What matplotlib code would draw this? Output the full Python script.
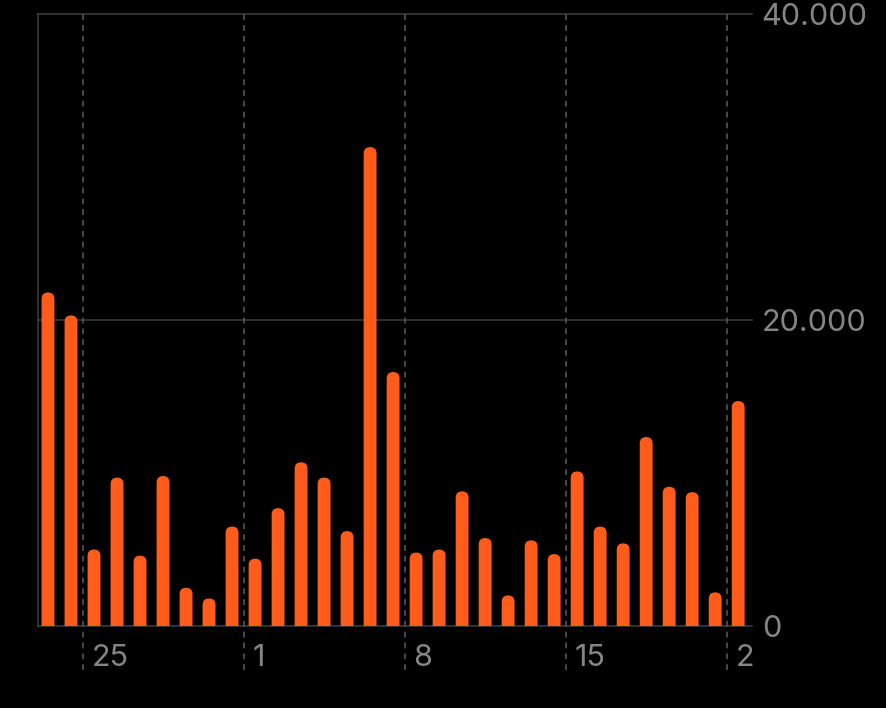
import matplotlib
matplotlib.use("Agg")
import matplotlib.pyplot as plt
from matplotlib.patches import FancyBboxPatch
import matplotlib.transforms as mtransforms

# daily values, 23rd of one month to the 22nd of the next
days = list(range(23, 32)) + list(range(1, 23))
values = [21800, 20300, 5000, 9700, 4600, 9800, 2500, 1800, 6500, 4400,
          7700, 10700, 9700, 6200, 31300, 16600, 4800, 5000, 8800, 5750,
          2000, 5600, 4700, 10100, 6500, 5400, 12350, 9100, 8750, 2200, 14700]

week_starts = [25, 1, 8, 15, 22]
week_labels = ["25", "1", "8", "15", "2"]
y_ticks = [0, 20000, 40000]
y_labels = ["0", "20.000", "40.000"]

orange = "#ff5c1c"
grey_txt = "#858585"
grid_col = "#3a3a3a"
dash_col = "#555555"

plt.rcParams['font.family'] = ['Inter', 'DejaVu Sans']

fig = plt.figure(figsize=(8.86, 7.08), dpi=100, facecolor="black")
ax = fig.add_axes([38 / 886, 82 / 708, 714 / 886, 612 / 708])
ax.set_facecolor("black")

x = list(range(len(values)))
bars = ax.bar(x, values, width=0.56, color=orange)

# swap plain rectangles for ones with rounded tops
r = 0.28
for b in bars:
    bx, bw, bh = b.get_x(), b.get_width(), b.get_height()
    b.remove()
    p = FancyBboxPatch((bx + r, -2000), bw - 2 * r, bh + 2000 - r * 1500,
                       boxstyle="round,pad=%f" % r, mutation_aspect=1500,
                       fc=orange, ec="none", zorder=3)
    ax.add_patch(p)

ax.set_xlim(-0.435, 30.6)
ax.set_ylim(0, 40000)

for yv in y_ticks:
    ax.axhline(yv, color=grid_col, lw=1.2, zorder=1, clip_on=False)

for d in week_starts:
    xi = days.index(d) - 0.5
    ax.axvline(xi, ymin=-0.072, ymax=1, color=dash_col, lw=1.2,
               ls=(0, (3.5, 3)), zorder=2, clip_on=False)

trans = mtransforms.blended_transform_factory(ax.transData, ax.transAxes)
for d, lab in zip(week_starts, week_labels):
    xi = days.index(d) - 0.5
    ax.text(xi + 0.38, -0.053, lab, transform=trans, ha="left", va="center",
            color=grey_txt, fontsize=22)

for s in ["top", "right", "bottom"]:
    ax.spines[s].set_visible(False)
ax.spines["left"].set_color(grid_col)
ax.spines["left"].set_linewidth(1.2)

ax.set_xticks([])
ax.yaxis.tick_right()
ax.set_yticks(y_ticks)
ax.set_yticklabels(y_labels)
ax.tick_params(axis="y", length=0, pad=7, labelsize=22, labelcolor=grey_txt)

fig.savefig("out.png", dpi=100, facecolor="black")
